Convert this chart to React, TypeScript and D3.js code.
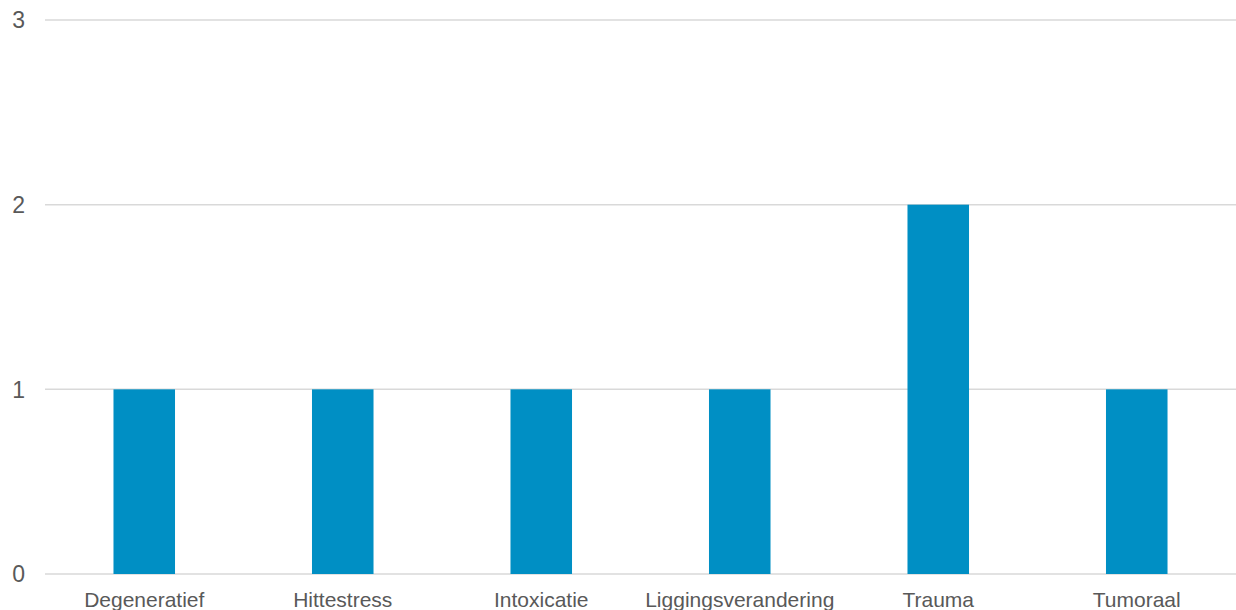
import React from "react";
import * as d3 from "d3";

const categories = ["Degeneratief", "Hittestress", "Intoxicatie", "Liggingsverandering", "Trauma", "Tumoraal"];
const counts = [1, 1, 1, 1, 2, 1];
const yTicks = [0, 1, 2, 3];

const W = 1236;
const H = 610;
const plot = { left: 45, right: 1236, top: 20, bottom: 574 };

export default function App() {
  const x = d3
    .scaleBand<string>()
    .domain(categories)
    .range([plot.left, plot.right])
    .paddingInner(0.69)
    .paddingOuter(0.345);
  const y = d3.scaleLinear().domain([0, 3]).range([plot.bottom, plot.top]);

  const font = "'Liberation Sans', Arial, sans-serif";

  return (
    <svg
      width={W}
      height={H}
      style={{ position: "absolute", left: 0, top: 0, background: "#fff" }}
    >
      {yTicks.map((t) => (
        <g key={t}>
          <line x1={plot.left} x2={plot.right} y1={y(t)} y2={y(t)} stroke="#d9d9d9" strokeWidth={1.5} />
          <text
            x={25}
            y={y(t)}
            dy="0.36em"
            textAnchor="end"
            fontFamily={font}
            fontSize={23}
            fill="#595959"
          >
            {t}
          </text>
        </g>
      ))}
      {categories.map((c, i) => (
        <rect
          key={c}
          x={x(c)}
          y={y(counts[i])}
          width={x.bandwidth()}
          height={y(0) - y(counts[i])}
          fill="#008FC4"
        />
      ))}
      {categories.map((c) => (
        <text
          key={c}
          x={(x(c) as number) + x.bandwidth() / 2}
          y={607}
          textAnchor="middle"
          fontFamily={font}
          fontSize={21}
          fill="#595959"
        >
          {c}
        </text>
      ))}
    </svg>
  );
}
